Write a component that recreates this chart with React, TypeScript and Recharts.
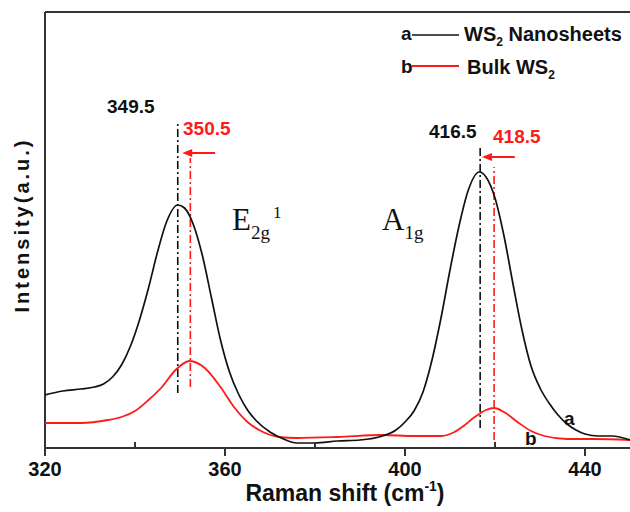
import { LineChart, Line, XAxis, YAxis, ReferenceLine } from "recharts";

// Raman shift (cm-1) and intensity for the WS2 nanosheets (curve a)
const nanoShift = [320, 324, 328, 331, 333, 335, 337, 339, 341, 343, 345, 347, 349.5, 351, 353, 355, 357, 359, 361, 363, 365, 367, 370, 373, 376, 380, 385, 390, 395, 398, 400, 402, 404, 406, 408, 410, 412, 414, 416.5, 418, 420, 422, 424, 426, 428, 430, 432, 434, 436, 438, 440, 443, 446, 450];
const nanoIntensity = [53, 57, 59, 61, 64, 71, 83, 102, 128, 160, 196, 226, 243, 240, 223, 192, 150, 108, 76, 54, 38, 27, 16, 9, 5, 5, 7, 8, 12, 18, 26, 37, 56, 88, 130, 178, 222, 257, 276, 271, 250, 212, 164, 118, 82, 60, 45, 33, 24, 18, 14, 12, 12, 8];

// bulk WS2 (curve b)
const bulkShift = [320, 328, 334, 337, 340, 343, 346, 349, 352.2, 355.5, 359, 362, 365, 368, 372, 376, 385, 395, 402, 408, 411, 413, 415.5, 418, 419.8, 422, 425, 428, 431, 436, 442, 450];
const bulkIntensity = [25, 25, 28, 31, 37, 48, 61, 78, 87, 80, 61, 41, 26, 17, 11, 10, 11, 13, 12, 12, 16, 22, 31, 38, 40, 36, 26, 17, 12, 9, 9, 8];

const xTicks = [320, 340, 360, 380, 400, 420, 440];
const majorTicks = [320, 360, 400, 440];

// peak positions marked by dash-dot lines
const peakShift = [349.5, 352.3, 416.7, 419.8];
const peakLabels = ["349.5", "350.5", "416.5", "418.5"];

const BLACK = "#111";
const RED = "#ff1a1a";
const AXIS = "#333";

const nanoData = nanoShift.map((x, i) => ({ x, y: nanoIntensity[i] }));
const bulkData = bulkShift.map((x, i) => ({ x, y: bulkIntensity[i] }));

const font = "'Liberation Sans', Arial, sans-serif";
const serif = "'Liberation Serif', 'Times New Roman', serif";

function Tick(props: any) {
  const { x, y, payload } = props;
  const major = majorTicks.includes(payload.value);
  return (
    <g>
      <line x1={x} x2={x} y1={y} y2={major ? y + 8 : y - 6} stroke={AXIS} strokeWidth={2} />
      {major && (
        <text x={x} y={y + 28} textAnchor="middle" fontFamily={font} fontWeight="bold" fontSize={20} fill="#111">
          {payload.value}
        </text>
      )}
    </g>
  );
}

function Arrow(props: any) {
  const { x1, y1, x2, y2 } = props;
  return (
    <g>
      <line x1={x1} y1={y1} x2={x2 + 8} y2={y2} stroke={RED} strokeWidth={2} />
      <polygon points={`${x2},${y2} ${x2 + 10},${y2 - 4} ${x2 + 10},${y2 + 4}`} fill={RED} />
    </g>
  );
}

export default function App() {
  const dashDot = "8 3 2 3";
  return (
    <div style={{ position: "absolute", left: 0, top: 0, width: 630, height: 512 }}>
      <LineChart width={630} height={512} margin={{ top: 12, right: 0, bottom: 0, left: 45 }}>
        <XAxis
          dataKey="x"
          type="number"
          domain={[320, 450]}
          ticks={xTicks}
          interval={0}
          height={64}
          tickSize={0}
          tickMargin={0}
          tickLine={false}
          tick={<Tick />}
          axisLine={{ stroke: AXIS, strokeWidth: 2 }}
          allowDataOverflow
        />
        <YAxis type="number" domain={[0, 436]} width={0} tick={false} tickLine={false} axisLine={false} allowDataOverflow />
        <ReferenceLine y={436} stroke={AXIS} strokeWidth={2} />
        <ReferenceLine x={320} stroke={AXIS} strokeWidth={2} />
        <ReferenceLine segment={[{ x: peakShift[0], y: 55 }, { x: peakShift[0], y: 326 }]} stroke={BLACK} strokeWidth={1.6} strokeDasharray={dashDot} />
        <ReferenceLine segment={[{ x: peakShift[1], y: 61 }, { x: peakShift[1], y: 290 }]} stroke={RED} strokeWidth={1.6} strokeDasharray={dashDot} />
        <ReferenceLine segment={[{ x: peakShift[2], y: 20 }, { x: peakShift[2], y: 300 }]} stroke={BLACK} strokeWidth={1.6} strokeDasharray={dashDot} />
        <ReferenceLine segment={[{ x: peakShift[3], y: 8 }, { x: peakShift[3], y: 281 }]} stroke={RED} strokeWidth={1.6} strokeDasharray={dashDot} />
        <ReferenceLine segment={[{ x: 357.8, y: 295 }, { x: 350.5, y: 295 }]} shape={<Arrow />} />
        <ReferenceLine segment={[{ x: 424.4, y: 291 }, { x: 417.1, y: 291 }]} shape={<Arrow />} />
        <Line data={bulkData} dataKey="y" type="monotone" stroke={RED} strokeWidth={1.8} dot={false} isAnimationActive={false} />
        <Line data={nanoData} dataKey="y" type="monotone" stroke={BLACK} strokeWidth={1.7} dot={false} isAnimationActive={false} />
      </LineChart>

      <svg width={630} height={512} style={{ position: "absolute", left: 0, top: 0, pointerEvents: "none" }}>
        <g fontFamily={font} fontWeight="bold" fontSize={19}>
          {/* legend */}
          <text x={401} y={40} fill="#111">a</text>
          <line x1={412} x2={459} y1={35} y2={35} stroke={BLACK} strokeWidth={1.7} />
          <text x={464} y={41} fill="#111" fontSize={20}>
            WS<tspan fontSize={12} dy={5}>2</tspan>
            <tspan dy={-5}> Nanosheets</tspan>
          </text>
          <text x={401} y={73} fill="#111">b</text>
          <line x1={412} x2={459} y1={66} y2={66} stroke={RED} strokeWidth={1.8} />
          <text x={467} y={74} fill="#111" fontSize={20}>
            Bulk WS<tspan fontSize={12} dy={5}>2</tspan>
          </text>

          {/* peak labels */}
          <text x={107} y={113} fill="#111">{peakLabels[0]}</text>
          <text x={183} y={135} fill={RED}>{peakLabels[1]}</text>
          <text x={429} y={138} fill="#111">{peakLabels[2]}</text>
          <text x={493} y={143} fill={RED}>{peakLabels[3]}</text>

          {/* curve labels */}
          <text x={564} y={425} fill="#111">a</text>
          <text x={525} y={445} fill="#111">b</text>
        </g>

        {/* mode labels */}
        <text x={232} y={230} fontFamily={serif} fontSize={31} fill="#111">
          E<tspan fontSize={19} dy={9}>2g</tspan>
          <tspan fontSize={17} dx={3} dy={-21}>1</tspan>
        </text>
        <text x={382} y={230} fontFamily={serif} fontSize={31} fill="#111">
          A<tspan fontSize={19} dy={9}>1g</tspan>
        </text>

        {/* axis titles */}
        <text x={345} y={501} textAnchor="middle" fontFamily={font} fontWeight="bold" fontSize={23} fill="#111">
          Raman shift (cm<tspan fontSize={14} dy={-10}>-1</tspan>
          <tspan dy={10}>)</tspan>
        </text>
        <text
          transform="translate(22,225) rotate(-90)"
          textAnchor="middle"
          dominantBaseline="central"
          fontFamily={font}
          fontWeight="bold"
          fontSize={20}
          letterSpacing={3}
          fill="#111"
        >
          Intensity(a.u.)
        </text>
      </svg>
    </div>
  );
}
